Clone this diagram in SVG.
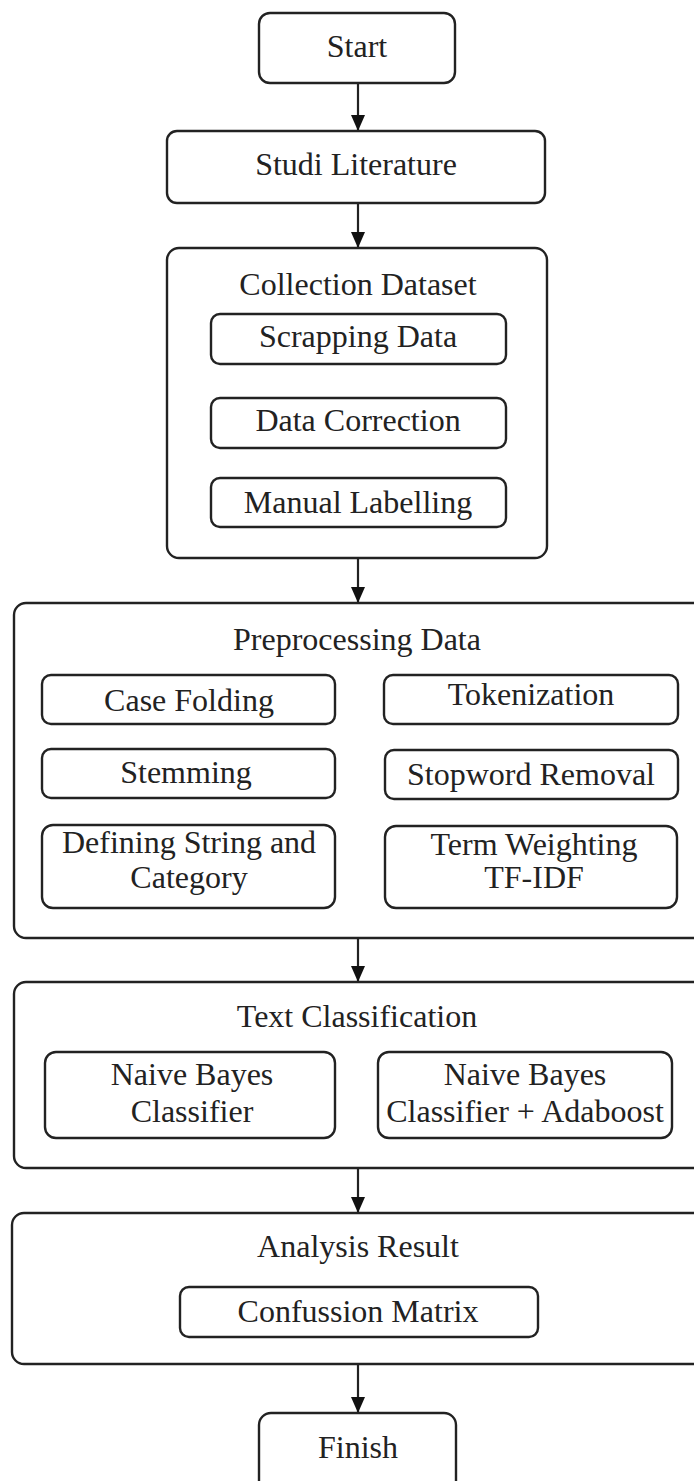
<svg xmlns="http://www.w3.org/2000/svg" width="694" height="1481" viewBox="0 0 694 1481">
<style>
.box{fill:#fff;stroke:#222;stroke-width:2.4}
.t{font-family:"Liberation Serif","Times New Roman",serif;font-size:32px;fill:#222;text-anchor:middle}
.c{stroke:#222;stroke-width:2.2;fill:none}
</style>
<defs>
<marker id="ah" markerUnits="userSpaceOnUse" markerWidth="16" markerHeight="14" refX="16" refY="7" orient="auto">
<path d="M0,0 L16,7 L0,14 z" fill="#111"/>
</marker>
</defs>
<rect width="694" height="1481" fill="#fff"/>
<g id="connectors">
<line class="c" x1="358" y1="83" x2="358" y2="131" marker-end="url(#ah)"/>
<line class="c" x1="358" y1="203" x2="358" y2="248" marker-end="url(#ah)"/>
<line class="c" x1="358" y1="558" x2="358" y2="603" marker-end="url(#ah)"/>
<line class="c" x1="358" y1="938" x2="358" y2="982" marker-end="url(#ah)"/>
<line class="c" x1="358" y1="1168" x2="358" y2="1213" marker-end="url(#ah)"/>
<line class="c" x1="358" y1="1364" x2="358" y2="1413" marker-end="url(#ah)"/>
</g>
<g id="start">
<rect class="box" x="259" y="13" width="196" height="70" rx="11"/>
<text class="t" x="357" y="57">Start</text>
</g>
<g id="studi">
<rect class="box" x="167" y="131" width="378" height="72" rx="10"/>
<text class="t" x="356" y="175">Studi Literature</text>
</g>
<g id="collection">
<rect class="box" x="167" y="248" width="380" height="310" rx="12"/>
<text class="t" x="358" y="295">Collection Dataset</text>
</g>
<g id="scrapping">
<rect class="box" x="211" y="314" width="295" height="50" rx="9"/>
<text class="t" x="358" y="347">Scrapping Data</text>
</g>
<g id="correction">
<rect class="box" x="211" y="398" width="295" height="50" rx="9"/>
<text class="t" x="358" y="431">Data Correction</text>
</g>
<g id="labelling">
<rect class="box" x="211" y="478" width="295" height="49" rx="9"/>
<text class="t" x="358" y="513">Manual Labelling</text>
</g>
<g id="preprocessing">
<rect class="box" x="14" y="603" width="700" height="335" rx="12"/>
<text class="t" x="357" y="650">Preprocessing Data</text>
</g>
<g id="casefolding">
<rect class="box" x="42" y="675" width="293" height="49" rx="9"/>
<text class="t" x="189" y="711">Case Folding</text>
</g>
<g id="tokenization">
<rect class="box" x="384" y="675" width="294" height="49" rx="9"/>
<text class="t" x="531" y="705">Tokenization</text>
</g>
<g id="stemming">
<rect class="box" x="42" y="749" width="293" height="49" rx="9"/>
<text class="t" x="186" y="783">Stemming</text>
</g>
<g id="stopword">
<rect class="box" x="385" y="750" width="293" height="49" rx="9"/>
<text class="t" x="531" y="785">Stopword Removal</text>
</g>
<g id="defining">
<rect class="box" x="42" y="825" width="293" height="83" rx="11"/>
<text class="t" x="189" y="853">Defining String and</text>
<text class="t" x="189" y="888">Category</text>
</g>
<g id="termweighting">
<rect class="box" x="385" y="826" width="292" height="82" rx="11"/>
<text class="t" x="534" y="855">Term Weighting</text>
<text class="t" x="534" y="888">TF-IDF</text>
</g>
<g id="textclassification">
<rect class="box" x="14" y="982" width="700" height="186" rx="12"/>
<text class="t" x="357" y="1027">Text Classification</text>
</g>
<g id="nb">
<rect class="box" x="45" y="1052" width="290" height="86" rx="11"/>
<text class="t" x="192" y="1085">Naive Bayes</text>
<text class="t" x="192" y="1122">Classifier</text>
</g>
<g id="nbada">
<rect class="box" x="378" y="1052" width="294" height="86" rx="11"/>
<text class="t" x="525" y="1085">Naive Bayes</text>
<text class="t" x="525" y="1122">Classifier + Adaboost</text>
</g>
<g id="analysis">
<rect class="box" x="12" y="1213" width="702" height="151" rx="12"/>
<text class="t" x="358" y="1257">Analysis Result</text>
</g>
<g id="confussion">
<rect class="box" x="180" y="1287" width="358" height="50" rx="9"/>
<text class="t" x="358" y="1322">Confussion Matrix</text>
</g>
<g id="finish">
<rect class="box" x="259" y="1413" width="197" height="90" rx="12"/>
<text class="t" x="358" y="1458">Finish</text>
</g>
</svg>
